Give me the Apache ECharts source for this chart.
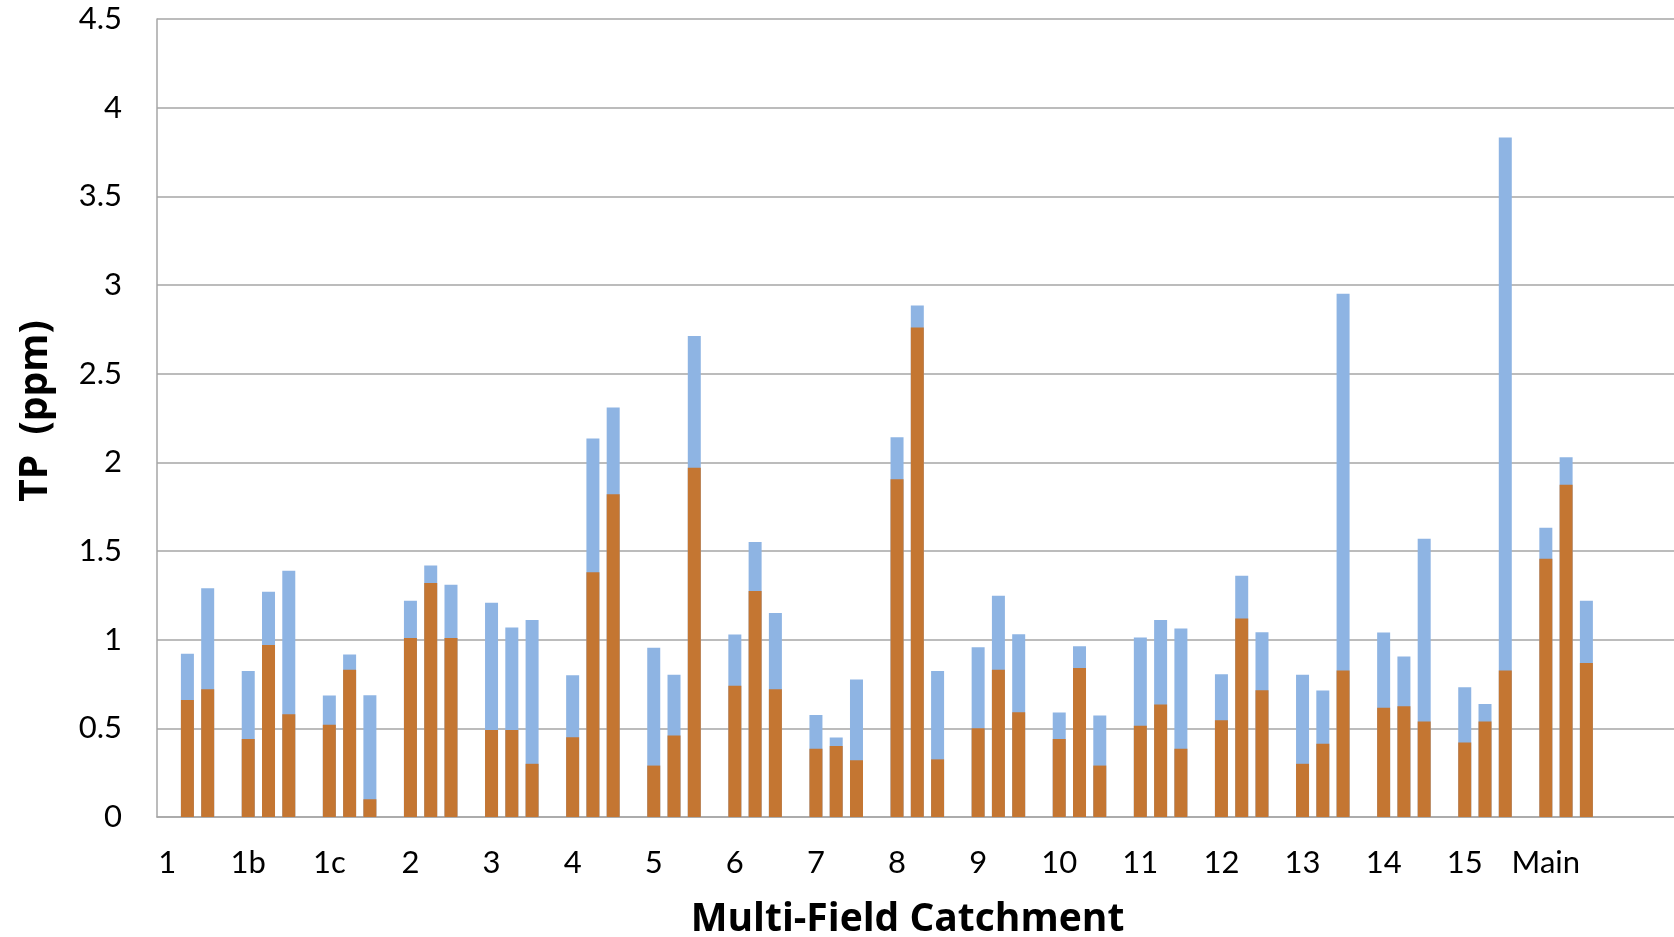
<!DOCTYPE html>
<html>
<head>
<meta charset="utf-8">
<style>
  html, body { margin: 0; padding: 0; background: #ffffff; }
  #chart { width: 1674px; height: 937px; }
</style>
<script src="https://cdn.jsdelivr.net/npm/echarts@6/dist/echarts.min.js"></script>
</head>
<body>
<div id="chart"></div>
<script>
// Category groups along the x axis (each group holds 3 samples, followed by a blank slot)
const groups = ['1', '1b', '1c', '2', '3', '4', '5', '6', '7', '8', '9', '10', '11', '12', '13', '14', '15', 'Main'];

// Lower (orange) part of each bar, ppm
const orangeValues = [
  [null, 0.66, 0.72],
  [0.44, 0.97, 0.58],
  [0.52, 0.83, 0.10],
  [1.01, 1.32, 1.01],
  [0.49, 0.49, 0.30],
  [0.45, 1.38, 1.82],
  [0.29, 0.46, 1.97],
  [0.74, 1.275, 0.72],
  [0.385, 0.40, 0.32],
  [1.905, 2.76, 0.325],
  [0.50, 0.83, 0.59],
  [0.44, 0.84, 0.29],
  [0.515, 0.635, 0.385],
  [0.545, 1.12, 0.715],
  [0.30, 0.413, 0.826],
  [0.616, 0.624, 0.538],
  [0.42, 0.538, 0.826],
  [1.456, 1.873, 0.868]
];

// Total TP (top of the blue part) of each bar, ppm
const totalValues = [
  [null, 0.92, 1.29],
  [0.824, 1.27, 1.388],
  [0.685, 0.917, 0.687],
  [1.22, 1.418, 1.31],
  [1.208, 1.069, 1.111],
  [0.80, 2.134, 2.309],
  [0.955, 0.802, 2.712],
  [1.029, 1.551, 1.151],
  [0.575, 0.448, 0.776],
  [2.142, 2.885, 0.823],
  [0.957, 1.248, 1.031],
  [0.589, 0.963, 0.573],
  [1.012, 1.111, 1.063],
  [0.805, 1.361, 1.042],
  [0.802, 0.713, 2.951],
  [1.041, 0.905, 1.569],
  [0.732, 0.637, 3.832],
  [1.631, 2.028, 1.22]
];

// Number of empty trailing groups (the plot continues past the right edge of the picture)
const trailingEmptyGroups = 2;

// Build the slot-level arrays the category axis needs
const slotLabels = [];
const orangeSlots = [];
const totalSlots = [];
groups.forEach((g, gi) => {
  for (let k = 0; k < 4; k++) {
    slotLabels.push(k === 0 ? g : '');
    orangeSlots.push(k < 3 ? orangeValues[gi][k] : null);
    totalSlots.push(k < 3 ? totalValues[gi][k] : null);
  }
});
for (let i = 0; i < trailingEmptyGroups * 4; i++) {
  slotLabels.push('');
  orangeSlots.push(null);
  totalSlots.push(null);
}

const chart = echarts.init(document.getElementById('chart'), null, { renderer: 'canvas' });
const gridColor = '#a6a6a6';
const font = 'Lato, "Noto Sans", sans-serif';
const nameFont = '"Open Sans", "Noto Sans", sans-serif';

chart.setOption({
  animation: false,
  backgroundColor: '#ffffff',
  grid: {
    left: 157,
    top: 19,
    bottom: 120,
    right: -105,
    containLabel: false,
    outerBoundsMode: 'none'
  },
  xAxis: {
    type: 'category',
    data: slotLabels,
    boundaryGap: true,
    name: 'Multi-Field Catchment',
    nameLocation: 'middle',
    nameGap: 83,
    nameTextStyle: {
      fontFamily: nameFont,
      fontWeight: 'bold',
      fontSize: 39,
      color: '#000000',
      padding: [0, 121, 0, 0]
    },
    axisLine: { show: true, lineStyle: { color: gridColor, width: 1.5 } },
    axisTick: { show: false },
    axisLabel: {
      interval: 3,
      margin: 30,
      fontFamily: font,
      fontSize: 31,
      color: '#000000'
    },
    splitLine: { show: false }
  },
  yAxis: {
    type: 'value',
    min: 0,
    max: 4.5,
    interval: 0.5,
    name: 'TP  (ppm)',
    nameLocation: 'middle',
    nameGap: 102,
    nameTextStyle: {
      fontFamily: nameFont,
      fontWeight: 'bold',
      fontSize: 39,
      color: '#000000',
      padding: [0, 0, 0, 14]
    },
    axisLine: { show: true, lineStyle: { color: gridColor, width: 1.5 } },
    axisTick: { show: false },
    axisLabel: {
      margin: 35,
      fontFamily: font,
      fontSize: 31,
      color: '#000000'
    },
    splitLine: { show: true, lineStyle: { color: gridColor, width: 1.5 } }
  },
  series: [
    {
      name: 'Total',
      type: 'bar',
      data: totalSlots,
      barWidth: 13,
      barGap: '-100%',
      itemStyle: { color: '#8eb4e3' }
    },
    {
      name: 'Lower part',
      type: 'bar',
      data: orangeSlots,
      barWidth: 13,
      barGap: '-100%',
      itemStyle: { color: '#c47632' }
    }
  ]
});
</script>
</body>
</html>
